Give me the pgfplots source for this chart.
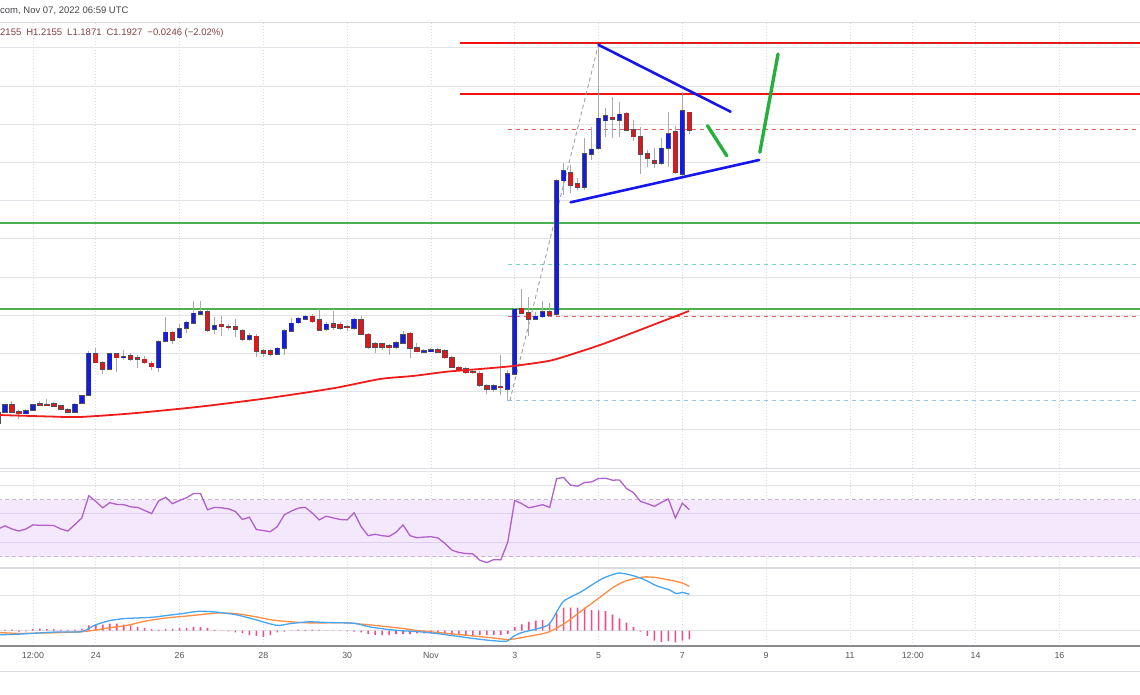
\documentclass[border=0pt]{standalone}
\usepackage{fontspec}
\setmainfont{Liberation Sans}
\usepackage{pgfplots}
\usepackage{pgfplotstable}
\pgfplotsset{compat=1.18}
\definecolor{gridc}{RGB}{226,228,234}
\definecolor{vgridc}{RGB}{218,218,226}
\definecolor{sepc}{RGB}{218,218,224}
\definecolor{upc}{RGB}{18,28,230}
\definecolor{dnc}{RGB}{228,20,24}
\definecolor{wickc}{RGB}{170,170,172}
\definecolor{edgec}{RGB}{80,80,86}
\definecolor{redl}{RGB}{242,18,18}
\definecolor{greenl}{RGB}{76,178,80}
\definecolor{bluel}{RGB}{22,22,235}
\definecolor{greena}{RGB}{38,175,62}
\definecolor{maline}{RGB}{240,28,28}
\definecolor{tealdash}{RGB}{120,215,190}
\definecolor{bluedash}{RGB}{150,198,235}
\definecolor{reddash}{RGB}{225,95,95}
\definecolor{darkdash}{RGB}{165,55,55}
\definecolor{diagc}{RGB}{160,160,160}
\definecolor{rsil}{RGB}{178,95,205}
\definecolor{rsifill}{RGB}{244,233,252}
\definecolor{rsidash}{RGB}{200,180,215}
\definecolor{rsigrid}{RGB}{222,208,236}
\definecolor{macdl}{RGB}{70,165,240}
\definecolor{sigl}{RGB}{255,140,65}
\definecolor{histc}{RGB}{240,75,135}
\definecolor{labc}{RGB}{85,85,90}
\definecolor{hdrc}{RGB}{70,70,75}
\definecolor{ohlcc}{RGB}{135,62,62}
\definecolor{axisc}{RGB}{140,140,146}

% up candles: index, open, high, low, close (4h candles)
\pgfplotstableread{
j o h l c
-1 0.8090 0.8247 0.8064 0.8221
0 0.8230 0.8339 0.8221 0.8326
3 0.8212 0.8274 0.8208 0.8247
4 0.8261 0.8339 0.8247 0.8326
10 0.8234 0.8352 0.8221 0.8335
11 0.8348 0.8457 0.8339 0.8444
12 0.8457 0.9033 0.8444 0.9003
15 0.8797 0.9007 0.8784 0.8990
17 0.8945 0.9046 0.8915 0.8958
22 0.8814 0.9177 0.8762 0.9155
23 0.9164 0.9482 0.9151 0.9277
25 0.9207 0.9382 0.9190 0.9321
26 0.9330 0.9425 0.9268 0.9408
27 0.9395 0.9687 0.9386 0.9526
28 0.9517 0.9687 0.9504 0.9547
30 0.9321 0.9482 0.9255 0.9364
35 0.9186 0.9268 0.9164 0.9233
39 0.8990 0.9085 0.8980 0.9068
40 0.9068 0.9321 0.8980 0.9294
41 0.9294 0.9461 0.9281 0.9395
42 0.9403 0.9478 0.9386 0.9461
43 0.9452 0.9504 0.9439 0.9487
46 0.9317 0.9412 0.9294 0.9382
50 0.9330 0.9469 0.9308 0.9448
56 0.9081 0.9164 0.9059 0.9134
57 0.9134 0.9299 0.9124 0.9242
60 0.9020 0.9059 0.9007 0.9037
61 0.9029 0.9072 0.9020 0.9046
70 0.8535 0.8601 0.8496 0.8575
72 0.8535 0.8780 0.8382 0.8732
73 0.8732 0.9596 0.8719 0.9579
76 0.9452 0.9543 0.9439 0.9487
77 0.9482 0.9691 0.9465 0.9547
79 0.9517 1.1284 0.9491 1.1262
80 1.1262 1.1497 1.1075 1.1393
83 1.1175 1.1817 1.1140 1.1611
84 1.1611 1.1969 1.1533 1.1673
85 1.1686 1.3050 1.1664 1.2079
86 1.2047 1.2209 1.1838 1.2109
88 1.2056 1.2296 1.1838 1.2131
94 1.1490 1.1817 1.1467 1.1686
95 1.1686 1.2165 1.1445 1.1873
97 1.1346 1.2427 1.1323 1.2174
}\upT

% down candles
\pgfplotstableread{
j o h l c
1 0.8326 0.8378 0.8221 0.8230
2 0.8238 0.8261 0.8143 0.8212
5 0.8339 0.8378 0.8313 0.8326
6 0.8330 0.8404 0.8313 0.8322
7 0.8339 0.8365 0.8300 0.8313
8 0.8313 0.8326 0.8261 0.8270
9 0.8261 0.8287 0.8221 0.8234
13 0.8990 0.9076 0.8876 0.8880
14 0.8880 0.8902 0.8728 0.8797
16 0.8990 0.9007 0.8754 0.8945
18 0.8967 0.9007 0.8902 0.8924
19 0.8945 0.8980 0.8814 0.8928
20 0.8924 0.8967 0.8863 0.8880
21 0.8872 0.8902 0.8784 0.8827
24 0.9277 0.9294 0.9121 0.9177
29 0.9547 0.9569 0.9277 0.9308
31 0.9382 0.9495 0.9233 0.9351
32 0.9347 0.9386 0.9308 0.9338
33 0.9351 0.9452 0.9220 0.9317
34 0.9294 0.9321 0.9164 0.9186
36 0.9225 0.9255 0.8958 0.9033
37 0.9033 0.9059 0.8958 0.9003
38 0.9033 0.9059 0.8967 0.8990
44 0.9487 0.9517 0.9399 0.9416
45 0.9435 0.9583 0.9294 0.9308
47 0.9390 0.9556 0.9308 0.9343
48 0.9382 0.9412 0.9308 0.9330
49 0.9347 0.9373 0.9294 0.9338
51 0.9435 0.9491 0.9242 0.9251
52 0.9251 0.9268 0.9059 0.9081
53 0.9121 0.9151 0.9003 0.9081
54 0.9121 0.9138 0.9046 0.9081
55 0.9098 0.9124 0.8980 0.9076
58 0.9264 0.9281 0.8937 0.9068
59 0.9076 0.9141 0.9020 0.9024
62 0.9046 0.9072 0.9007 0.9020
63 0.9037 0.9059 0.8928 0.8945
64 0.8945 0.8967 0.8810 0.8819
65 0.8819 0.8836 0.8771 0.8784
66 0.8797 0.8823 0.8732 0.8749
67 0.8762 0.8784 0.8732 0.8754
68 0.8741 0.8771 0.8558 0.8588
69 0.8575 0.8601 0.8470 0.8535
71 0.8566 0.8980 0.8457 0.8552
74 0.9592 0.9840 0.9517 0.9526
75 0.9534 0.9743 0.9233 0.9452
78 0.9547 0.9665 0.9478 0.9504
81 1.1367 1.1467 1.1097 1.1206
82 1.1219 1.1297 1.1140 1.1175
87 1.2092 1.2361 1.1817 1.2066
89 1.2144 1.2161 1.1912 1.1925
90 1.1925 1.2056 1.1781 1.1838
91 1.1838 1.1969 1.1346 1.1611
92 1.1611 1.1664 1.1437 1.1559
93 1.1524 1.1686 1.1424 1.1490
96 1.1903 1.1978 1.1350 1.1367
98 1.2155 1.2155 1.1871 1.1927
}\dnT

\pgfplotstableread{
j r
-1 49.4
0 51.6
1 49.4
2 48.0
3 49.4
4 52.3
5 52.0
6 52.0
7 51.8
8 49.4
9 48.0
10 52.5
11 57.2
12 72.8
13 68.8
14 64.3
15 67.9
16 66.7
17 66.5
18 65.0
19 64.6
20 62.4
21 60.3
22 69.1
23 71.7
24 67.2
25 69.5
26 71.4
27 74.3
28 74.3
29 62.9
30 64.6
31 64.3
32 63.6
33 61.7
34 56.1
35 57.7
36 49.0
37 48.3
38 47.5
39 51.1
40 59.4
41 62.0
42 64.1
43 64.6
44 60.6
45 55.8
46 58.4
47 57.2
48 56.1
49 55.8
50 60.8
51 51.1
52 44.7
53 45.7
54 44.7
55 44.2
56 47.1
57 52.3
58 44.7
59 43.3
60 43.7
61 44.0
62 43.1
63 39.3
64 34.5
65 32.9
66 32.2
67 31.9
68 27.4
69 25.8
70 27.9
71 27.7
72 40.2
73 69.5
74 67.2
75 64.3
76 65.3
77 66.5
78 64.6
79 84.9
80 85.6
81 80.2
82 79.5
83 82.1
84 82.5
85 84.9
86 85.1
87 83.7
88 83.9
89 77.8
90 75.0
91 68.8
92 67.2
93 65.3
94 68.1
95 70.5
96 57.2
97 67.6
98 62.9
}\rsiT

\pgfplotstableread{
j m
-1 -0.0048
1.9 -0.0040
4.5 -0.0028
7.1 -0.0016
11.0 -0.0012
12.8 0.0060
14.9 0.0112
17.0 0.0136
19.1 0.0144
21.2 0.0152
23.2 0.0172
25.3 0.0192
27.9 0.0220
30.5 0.0208
33.1 0.0180
35.7 0.0128
38.9 0.0060
40.9 0.0080
43.5 0.0100
46.1 0.0092
48.7 0.0088
50.3 0.0080
52.4 0.0040
55.0 0.0012
56.6 0.0000
59.2 -0.0012
61.8 -0.0032
64.4 -0.0060
67.0 -0.0088
69.6 -0.0112
71.8 -0.0120
72.9 -0.0060
74.1 -0.0020
77.7 0.0060
79.2 0.0240
80.1 0.0340
82.5 0.0440
84.9 0.0560
86.1 0.0608
87.9 0.0652
89.7 0.0628
91.5 0.0580
93.3 0.0508
95.2 0.0460
96.1 0.0420
97.0 0.0432
98.0 0.0412
}\macdT

\pgfplotstableread{
j s
-1 -0.0020
1.9 -0.0032
4.5 -0.0028
7.1 -0.0024
11.0 -0.0012
13.1 0.0008
14.9 0.0032
17.5 0.0060
20.1 0.0108
22.7 0.0140
25.3 0.0160
27.9 0.0180
30.5 0.0200
33.1 0.0192
35.7 0.0160
38.3 0.0120
40.9 0.0100
43.5 0.0088
48.7 0.0088
51.3 0.0072
53.9 0.0052
56.6 0.0028
59.2 0.0000
61.8 -0.0020
64.4 -0.0040
67.0 -0.0060
69.6 -0.0080
72.2 -0.0100
75.3 -0.0060
77.7 -0.0020
80.1 0.0080
82.5 0.0220
84.9 0.0360
87.3 0.0500
89.1 0.0568
91.5 0.0608
93.3 0.0600
95.2 0.0572
97.0 0.0540
98.0 0.0500
}\sigT

\pgfplotstableread{
j h
0 0.0008
1 0.0012
2 -0.0012
3 -0.0008
4 0.0016
5 0.0024
6 0.0016
7 0.0016
8 0.0012
9 0.0008
10 0.0012
11 0.0020
12 0.0060
13 0.0068
14 0.0068
15 0.0080
16 0.0080
17 0.0068
18 0.0060
19 0.0040
20 0.0032
21 0.0016
22 0.0012
23 0.0020
24 0.0020
25 0.0028
26 0.0028
27 0.0044
28 0.0040
29 0.0032
30 0.0008
31 0.0002
32 -0.0008
33 -0.0020
34 -0.0028
35 -0.0052
36 -0.0060
37 -0.0072
38 -0.0052
39 -0.0020
40 -0.0012
41 0.0002
42 0.0012
43 0.0008
44 0.0012
45 0.0008
46 0.0004
47 0.0002
48 0.0002
49 -0.0008
50 -0.0012
51 -0.0020
52 -0.0040
53 -0.0048
54 -0.0052
55 -0.0052
56 -0.0040
57 -0.0040
58 -0.0040
59 -0.0032
60 -0.0032
61 -0.0032
62 -0.0040
63 -0.0040
64 -0.0048
65 -0.0052
66 -0.0052
67 -0.0052
68 -0.0052
69 -0.0048
70 -0.0048
71 -0.0052
72 -0.0040
73 0.0040
74 0.0072
75 0.0100
76 0.0112
77 0.0120
78 0.0088
79 0.0200
80 0.0260
81 0.0260
82 0.0260
83 0.0260
84 0.0232
85 0.0228
86 0.0220
87 0.0180
88 0.0140
89 0.0092
90 0.0040
91 -0.0012
92 -0.0060
93 -0.0112
94 -0.0128
95 -0.0120
96 -0.0132
97 -0.0112
98 -0.0100
}\histT

\pgfplotsset{
  pane/.style={
    scale only axis, width=1140pt, anchor=north west,
    xmin=-0.716, xmax=162.54,
    axis line style={draw=none},
    major tick length=0pt,
    scaled y ticks=false, scaled x ticks=false,
    xtick={4,13,25,37,49,61,73,85,97,109,121,130,139,151},
    xticklabels={}, yticklabels={},
    xmajorgrids, ymajorgrids,
    x grid style={vgridc, line width=0.8pt, dash pattern=on 1.5pt off 1.5pt},
    y grid style={gridc, line width=1pt},
  },
  wick/.style={draw=none, mark=none, forget plot,
    error bars/.cd, y dir=both, y explicit, error mark=none,
    error bar style={draw=wickc, line width=1pt}},
  bodyedge/.style={draw=none, mark=none, forget plot,
    error bars/.cd, y dir=both, y explicit, error mark=none,
    error bar style={draw=edgec, line width=5.4pt}},
  bodyfill/.style={draw=none, mark=none, forget plot,
    error bars/.cd, y dir=both, y explicit, error mark=none,
    error bar style={draw=#1, line width=3.8pt}},
}

\begin{document}
\begin{tikzpicture}
\useasboundingbox (0pt,0pt) rectangle (1140pt,-694pt);

% ---------- price pane ----------
\begin{axis}[pane, at={(0pt,-22pt)}, height=446pt,
  ymin=0.7501, ymax=1.3339,
  ytick={0.80,0.85,0.90,0.95,1.00,1.05,1.10,1.15,1.20,1.25,1.30}]
% horizontal levels
\addplot[greenl, line width=1.8pt] coordinates {(-2,1.0712) (170,1.0712)};
\addplot[reddash, line width=1pt, dash pattern=on 4pt off 4pt] coordinates {(72,0.9482) (170,0.9482)};
\addplot[greenl, line width=1.8pt] coordinates {(-2,0.9578) (170,0.9578)};
\addplot[redl, line width=1.8pt] coordinates {(65.2,1.3060) (170,1.3060)};
\addplot[darkdash, line width=1pt, dash pattern=on 4pt off 4pt] coordinates {(72,1.3060) (170,1.3060)};
\addplot[redl, line width=1.8pt] coordinates {(65.2,1.2397) (170,1.2397)};
\addplot[reddash, line width=1pt, dash pattern=on 4pt off 4pt] coordinates {(72,1.1927) (170,1.1927)};
\addplot[tealdash, line width=1pt, dash pattern=on 4pt off 4pt] coordinates {(72,1.0168) (170,1.0168)};
\addplot[bluedash, line width=1pt, dash pattern=on 4pt off 4pt] coordinates {(72,0.8382) (170,0.8382)};
\addplot[diagc, line width=0.9pt, dash pattern=on 4pt off 3pt] coordinates {(72.3,0.8382) (85,1.3050)};
% candles
\addplot[wick] table[x=j, y expr={(\thisrow{h}+\thisrow{l})/2}, y error expr={(\thisrow{h}-\thisrow{l})/2}] {\upT};
\addplot[wick] table[x=j, y expr={(\thisrow{h}+\thisrow{l})/2}, y error expr={(\thisrow{h}-\thisrow{l})/2}] {\dnT};
\addplot[bodyedge] table[x=j, y expr={(\thisrow{o}+\thisrow{c})/2}, y error expr={abs(\thisrow{o}-\thisrow{c})/2+0.0010}] {\upT};
\addplot[bodyedge] table[x=j, y expr={(\thisrow{o}+\thisrow{c})/2}, y error expr={abs(\thisrow{o}-\thisrow{c})/2+0.0010}] {\dnT};
\addplot[bodyfill=upc] table[x=j, y expr={(\thisrow{o}+\thisrow{c})/2}, y error expr={abs(\thisrow{o}-\thisrow{c})/2+0.0001}] {\upT};
\addplot[bodyfill=dnc] table[x=j, y expr={(\thisrow{o}+\thisrow{c})/2}, y error expr={abs(\thisrow{o}-\thisrow{c})/2+0.0001}] {\dnT};
% moving average
\addplot[maline, line width=1.8pt, smooth, tension=0.4] coordinates {
(-1,0.8195) (6.44,0.8175) (10.74,0.8169) (18.33,0.8217) (27.92,0.8304)
(37.52,0.8414) (46.97,0.8544) (53.70,0.8666) (58.43,0.8706) (63.30,0.8762)
(68.02,0.8797) (72.75,0.8836) (78.05,0.8906) (82.34,0.9024) (85.92,0.9134)
(90.93,0.9308) (97.95,0.9556)};
% pattern lines
\addplot[bluel, line width=2.6pt, line cap=round] coordinates {(85,1.3040) (103.9,1.2165)};
\addplot[bluel, line width=2.6pt, line cap=round] coordinates {(81.0,1.0979) (108.0,1.1533)};
\addplot[greena, line width=3.4pt, line cap=round] coordinates {(100.6,1.1982) (103.35,1.1589)};
\addplot[greena, line width=3.4pt, line cap=round] coordinates {(108.1,1.1634) (110.7,1.2920)};
\end{axis}

% ---------- RSI pane ----------
\begin{axis}[pane, at={(0pt,-468pt)}, height=100pt,
  ymin=21.98, ymax=92.28, ytick={40,60,80,90}]
\addplot[draw=none, fill=rsifill, forget plot] coordinates {(-2,30) (170,30) (170,70) (-2,70)} -- cycle;
\addplot[rsigrid, line width=1pt] coordinates {(-2,40) (170,40)};
\addplot[rsigrid, line width=1pt] coordinates {(-2,60) (170,60)};
\addplot[rsidash, line width=1pt, dash pattern=on 4pt off 3pt] coordinates {(-2,70) (170,70)};
\addplot[rsidash, line width=1pt, dash pattern=on 4pt off 3pt] coordinates {(-2,30) (170,30)};
\addplot[rsil, line width=1.3pt] table[x=j, y=r] {\rsiT};
\end{axis}

% ---------- MACD pane ----------
\begin{axis}[pane, at={(0pt,-568pt)}, height=78pt,
  ymin=-0.0174, ymax=0.0709, ytick={0,0.04},
  xticklabels={12:00,24,26,28,30,Nov,3,5,7,9,11,12:00,14,16},
  xticklabel style={font=\fontsize{8.8}{10}\selectfont, text=labc, anchor=center, yshift=-9.5pt}]
\addplot[ybar, bar width=1.6pt, bar shift=0pt, fill=histc, draw=none] table[x=j, y=h] {\histT};
\addplot[sigl, line width=1.3pt, smooth, tension=0.4] table[x=j, y=s] {\sigT};
\addplot[macdl, line width=1.3pt, smooth, tension=0.4] table[x=j, y=m] {\macdT};
\end{axis}

% separators and header
\draw[sepc, line width=1pt] (0pt,-22pt) -- (1140pt,-22pt);
\draw[sepc, line width=1.2pt] (0pt,-468.5pt) -- (1140pt,-468.5pt);
\draw[sepc, line width=1.2pt] (0pt,-568pt) -- (1140pt,-568pt);
\draw[axisc, line width=1.3pt] (0pt,-646pt) -- (1140pt,-646pt);
\draw[sepc, line width=1pt] (0pt,-671pt) -- (1140pt,-671pt);
\node[anchor=west, inner sep=0pt, text=hdrc, font=\fontsize{9.5}{11}\selectfont] at (0pt,-11pt) {com, Nov 07, 2022 06:59 UTC};
\node[anchor=west, inner sep=0pt, text=ohlcc, font=\fontsize{9.5}{11}\selectfont] at (0pt,-33pt)
  {2155\hspace{5pt}H1.2155\hspace{5pt}L1.1871\hspace{5pt}C1.1927\hspace{5pt}−0.0246 (−2.02\%)};
\end{tikzpicture}
\end{document}
